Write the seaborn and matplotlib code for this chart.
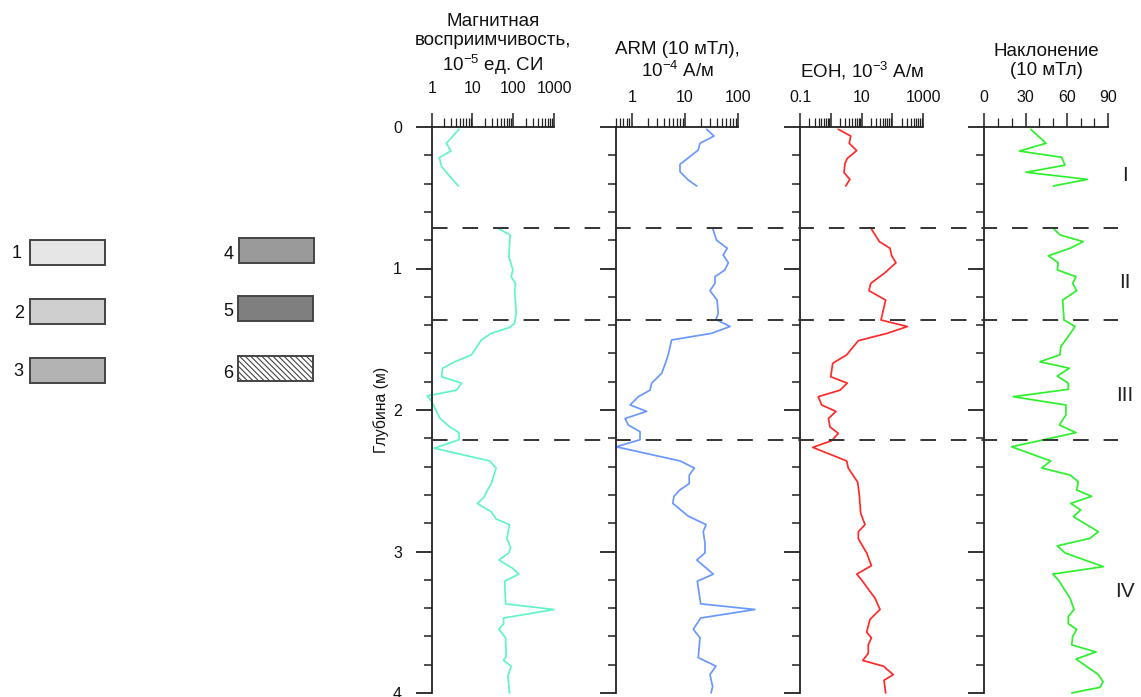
import numpy as np
import pandas as pd
import matplotlib
matplotlib.use("Agg")
import matplotlib.pyplot as plt
import seaborn as sns
import matplotlib.transforms as mtransforms
from matplotlib.patches import Rectangle
from matplotlib.lines import Line2D
from matplotlib.ticker import LogLocator, NullFormatter, MultipleLocator

# ---------------- data ----------------
# Magnetic susceptibility, 1e-5 SI
susc_depth_top = [0.016, 0.115, 0.17, 0.217, 0.28, 0.35, 0.417]
susc_top = [4.7, 2.3, 2.96, 1.53, 1.75, 2.8, 4.5]
susc_depth = [0.716, 0.763, 0.917, 1.01, 1.06, 1.106, 1.15, 1.317, 1.388, 1.417, 1.458, 1.505,
              1.61, 1.659, 1.705, 1.765, 1.81, 1.86, 1.90, 1.94, 2.06, 2.12, 2.16, 2.21, 2.27,
              2.36, 2.41, 2.52, 2.58, 2.62, 2.66, 2.72, 2.77, 2.81, 2.91, 2.97, 3.01, 3.06, 3.12,
              3.16, 3.21, 3.37, 3.41, 3.47, 3.51, 3.55, 3.61, 3.74, 3.77, 3.81, 3.88, 4.0]
susc = [42, 84, 78, 98, 89, 114, 109, 118, 107, 81, 29, 16.6,
        9.5, 3.7, 1.85, 1.75, 5.4, 4.06, 0.78, 1.0, 1.6, 2.8, 4.7, 4.7, 1.16,
        26.4, 38, 29, 22, 18.9, 13.2, 29, 38, 81, 70, 86, 78, 44.6, 98,
        137, 61.6, 65, 1000, 58, 58, 44.6, 65, 67, 58, 89, 74, 81]

# ARM (10 mT), 1e-4 A/m
arm_depth_top = [0.016, 0.064, 0.115, 0.163, 0.264, 0.316, 0.375, 0.417]
arm_top = [25.5, 35, 19.1, 17.7, 8.05, 8.05, 11.5, 16.6]
arm_depth = [0.716, 0.80, 0.857, 0.905, 0.959, 1.01, 1.058, 1.105, 1.157, 1.223, 1.317, 1.36,
             1.41, 1.458, 1.505, 1.60, 1.647, 1.74, 1.81, 1.86, 1.906, 1.964, 2.01, 2.06,
             2.106, 2.153, 2.21, 2.26, 2.36, 2.41, 2.46, 2.52, 2.565, 2.61, 2.66, 2.75, 2.81,
             2.86, 2.94, 3.01, 3.06, 3.16, 3.21, 3.37, 3.41, 3.47, 3.55, 3.61, 3.75, 3.81,
             3.87, 3.955, 4.0]
arm = [33, 39, 62, 52, 65, 56, 36.5, 36.5, 29.4, 40, 42, 38,
       70, 31.6, 5.6, 4.9, 4.5, 3.66, 2.37, 2.2, 1.33, 0.93, 1.9, 0.75,
       0.86, 1.43, 1.43, 0.51, 8.05, 15, 12, 12, 8, 6.2, 5.9, 11.5, 24.8,
       22, 23.7, 23.7, 16.6, 34, 17, 19.7, 205, 19.7, 14.3, 19.1, 17.7, 38,
       29.4, 33, 30.8]

# NRM (EOH), 1e-3 A/m
nrm_depth_top = [0.016, 0.064, 0.115, 0.167, 0.222, 0.257, 0.323, 0.37, 0.417]
nrm_top = [1.76, 4.45, 4.0, 6.97, 3.45, 2.9, 2.7, 4.2, 3.06]
nrm_depth = [0.716, 0.81, 0.857, 0.91, 0.959, 1.03, 1.105, 1.157, 1.223, 1.364, 1.41, 1.458,
             1.51, 1.61, 1.67, 1.765, 1.81, 1.86, 1.906, 1.965, 2.01, 2.06, 2.12, 2.165,
             2.217, 2.264, 2.36, 2.41, 2.51, 2.6, 2.73, 2.81, 2.86, 2.91, 3.01, 3.1, 3.16,
             3.2, 3.33, 3.41, 3.48, 3.57, 3.61, 3.66, 3.72, 3.77, 3.81, 3.87, 3.91, 4.0]
nrm = [20.4, 38, 84.6, 96, 132, 58, 20, 17.5, 61, 43, 310, 69,
       7.9, 3.3, 1.16, 1.0, 3.45, 2.0, 0.39, 0.51, 1.48, 0.84, 0.95, 1.76,
       1.07, 0.26, 3.3, 3.7, 7.5, 8.5, 9.4, 13, 7.9, 7.9, 14.7, 21, 7,
       10, 27.5, 40, 18.9, 14.7, 21, 16.6, 16.6, 11, 51, 108, 54, 61]

# Inclination (10 mT), degrees
incl_depth_top = [0.016, 0.115, 0.17, 0.214, 0.27, 0.32, 0.37, 0.417]
incl_top = [33.8, 44.9, 25.5, 56.3, 58.7, 30.3, 75, 50.2]
incl_depth = [0.716, 0.763, 0.81, 0.857, 0.91, 0.959, 1.01, 1.058, 1.105, 1.157, 1.223, 1.364,
              1.41, 1.48, 1.553, 1.61, 1.659, 1.705, 1.76, 1.81, 1.854, 1.906, 1.965, 2.035,
              2.106, 2.16, 2.26, 2.36, 2.41, 2.46, 2.507, 2.565, 2.61, 2.66, 2.707, 2.754,
              2.86, 2.907, 2.96, 3.01, 3.107, 3.16, 3.2, 3.33, 3.41, 3.46, 3.51, 3.55, 3.6,
              3.66, 3.71, 3.76, 3.87, 3.92, 3.96, 4.0]
incl = [50.2, 55.1, 72, 62.4, 46.6, 53.8, 53.1, 66.7, 64.3, 67.2, 57, 58,
        66, 61.1, 55.6, 55.1, 40.5, 61.9, 53.1, 61.1, 61.1, 21.1, 59.4, 59.4,
        54.6, 66.7, 19.9, 48.3, 41.8, 62.4, 68.4, 67.2, 78.1, 62.9, 70.1, 64.8,
        83, 76.9, 53.1, 58.7, 86.6, 49.8, 53.8, 62.4, 65.3, 61.1, 61.1, 67.2, 64.3,
        63.6, 81.3, 66.7, 83, 86.4, 84.2, 63.6]

boundaries = [0.714, 1.364, 2.21]
zone_names = ["I", "II", "III", "IV"]
zone_depths = [0.346, 1.10, 1.894, 3.286]

legend_labels = ["1", "2", "3", "4", "5", "6"]

depth_ticks = [0, 1, 2, 3, 4]

# ---------------- style ----------------
sns.set_style("white")
plt.rcParams["font.family"] = ["Liberation Sans", "DejaVu Sans"]
plt.rcParams["mathtext.fontset"] = "custom"
plt.rcParams["mathtext.rm"] = "Liberation Sans"
plt.rcParams["mathtext.it"] = "Liberation Sans:italic"
plt.rcParams["mathtext.bf"] = "Liberation Sans:bold"
plt.rcParams["hatch.linewidth"] = 0.8

W, H = 1141, 697
fig = plt.figure(figsize=(W / 100, H / 100), dpi=100)

AX_TOP, AX_BOT = 127, 693
AXCOL = "#222222"
TXT = "#111111"

panels = [
    dict(l=431.7, r=554.0, log=True, xlim=(1, 1000), ticks=[1, 10, 100, 1000],
         labels=["1", "10", "100", "1000"], color="#62f4c8",
         dt=susc_depth_top, vt=susc_top, d=susc_depth, v=susc,
         title="Магнитная\nвосприимчивость,\n10$^{-5}$ ед. СИ", ty=45, pad=12),
    dict(l=615.7, r=738.3, log=True, xlim=(0.5, 100), ticks=[1, 10, 100],
         labels=["1", "10", "100"], color="#6a98ff",
         dt=arm_depth_top, vt=arm_top, d=arm_depth, v=arm,
         title="ARM (10 мТл),\n10$^{-4}$ А/м", ty=61, pad=6),
    dict(l=800.0, r=923.0, log=True, xlim=(0.1, 1000), ticks=[0.1, 1, 10, 100, 1000],
         labels=["0.1", "", "10", "", "1000"], color="#ff2a2a",
         dt=nrm_depth_top, vt=nrm_top, d=nrm_depth, v=nrm,
         title="ЕОН, 10$^{-3}$ А/м", ty=71, pad=6),
    dict(l=984.3, r=1108.0, log=False, xlim=(0, 90), ticks=[0, 30, 60, 90],
         labels=["0", "30", "60", "90"], color="#2ef02e",
         dt=incl_depth_top, vt=incl_top, d=incl_depth, v=incl,
         title="Наклонение\n(10 мТл)", ty=61, pad=6),
]

axes = []
for i, p in enumerate(panels):
    ax = fig.add_axes([p["l"] / W, 1 - AX_BOT / H, (p["r"] - p["l"]) / W, (AX_BOT - AX_TOP) / H])
    ax.set_facecolor("none")
    if p["log"]:
        ax.set_xscale("log")
    df = pd.DataFrame({
        "depth": list(p["dt"]) + list(p["d"]),
        "value": list(p["vt"]) + list(p["v"]),
        "seg": [0] * len(p["dt"]) + [1] * len(p["d"]),
    })
    sns.lineplot(data=df, x="value", y="depth", units="seg", estimator=None, sort=False,
                 color=p["color"], lw=1.25, ax=ax, legend=False)
    for ln in ax.lines:
        ln.set_clip_on(False)
    ax.set_xlim(*p["xlim"])
    ax.set_ylim(4, 0)
    ax.set_xlabel("")
    ax.set_ylabel("")
    for s in ["right", "bottom"]:
        ax.spines[s].set_visible(False)
    for s in ["top", "left"]:
        ax.spines[s].set_linewidth(1.3)
        ax.spines[s].set_color(AXCOL)
    ax.xaxis.tick_top()
    ax.set_xticks(p["ticks"])
    ax.set_xticklabels(p["labels"])
    if p["log"]:
        ax.xaxis.set_minor_locator(LogLocator(base=10, subs=np.arange(2, 10), numticks=30))
        ax.xaxis.set_minor_formatter(NullFormatter())
    else:
        ax.xaxis.set_minor_locator(MultipleLocator(10))
    ax.tick_params(axis="x", which="major", direction="out", length=10, width=1.1,
                   color=AXCOL, top=True, bottom=False, labeltop=True, labelbottom=False,
                   labelsize=11.5, pad=p["pad"], labelcolor=TXT)
    ax.tick_params(axis="x", which="minor", direction="out", length=6.5, width=0.9,
                   color=AXCOL, top=True, bottom=False)
    ax.set_yticks(depth_ticks)
    ax.yaxis.set_minor_locator(MultipleLocator(0.2))
    ax.tick_params(axis="y", which="major", direction="out", length=11.5, width=1.3,
                   color=AXCOL, left=True, right=False, labelleft=(i == 0),
                   labelsize=11.5, pad=10, labelcolor=TXT)
    ax.tick_params(axis="y", which="minor", direction="out", length=6, width=1.1,
                   color=AXCOL, left=True, right=False)
    ax.grid(False)
    fig.text((p["l"] + p["r"]) / 2 / W, 1 - p["ty"] / H, p["title"], ha="center", va="center",
             multialignment="center", fontsize=13.5, linespacing=1.22, color=TXT)
    axes.append(ax)

axes[0].set_ylabel("Глубина (м)", fontsize=11.3, labelpad=3, color=TXT)

# boundary dashed lines across panels
trans = mtransforms.blended_transform_factory(fig.transFigure, axes[0].transData)
for b in boundaries:
    fig.add_artist(Line2D([431.7 / W, 1118 / W], [b, b], transform=trans,
                          ls=(0, (8, 7.7)), color="#333333", lw=1.4))

# zone labels
for name, zd in zip(zone_names, zone_depths):
    axes[3].text(102.4, zd, name, ha="center", va="center", fontsize=15,
                 color="#222222", clip_on=False)

# legend boxes
box_specs = [
    (30, 240, "#e6e6e6", None, 17, 253),
    (30, 299, "#cfcfcf", None, 19, 314),
    (30, 358, "#b3b3b3", None, 18, 372),
    (239, 238, "#9a9a9a", None, 229, 254),
    (238, 296, "#7f7f7f", None, 228, 311),
    (238, 356, "#ffffff", "\\\\\\\\\\\\", 228, 374),
]
for (x0, y0, fc, hatch, lx, ly), lab in zip(box_specs, legend_labels):
    rect = Rectangle((x0 / W, 1 - (y0 + 25) / H), 75 / W, 25 / H, transform=fig.transFigure,
                     facecolor=fc, edgecolor="#444444", lw=1.4, hatch=hatch)
    fig.add_artist(rect)
    fig.text(lx / W, 1 - ly / H, lab, ha="center", va="center", fontsize=13, color=TXT)

fig.savefig("out.png", dpi=100)
